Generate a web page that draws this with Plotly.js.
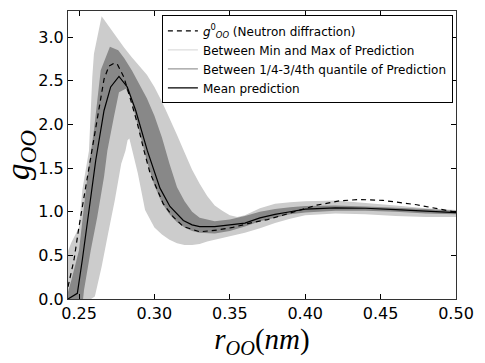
<!DOCTYPE html>
<html>
<head>
<meta charset="utf-8">
<script src="https://cdn.plot.ly/plotly-3.0.1.min.js"></script>
<style>html,body{margin:0;padding:0;background:#fff;}#chart{width:485px;height:363px;}</style>
</head>
<body>
<div id="chart"></div>
<script>
// Neutron diffraction g_OO
var dR = [0.2427, 0.2434, 0.2467, 0.25, 0.2533, 0.2566, 0.26, 0.2633, 0.2666, 0.2699, 0.2732, 0.2754, 0.2798, 0.2843, 0.2887, 0.2931, 0.297, 0.3059, 0.3125, 0.3192, 0.3302, 0.3413, 0.352, 0.3634, 0.375, 0.385, 0.395, 0.4076, 0.423, 0.436, 0.4516, 0.474, 0.50];
var dV = [0.14, 0.20, 0.45, 0.83, 1.17, 1.50, 1.85, 2.20, 2.52, 2.67, 2.70, 2.69, 2.54, 2.28, 2.01, 1.70, 1.45, 1.09, 0.94, 0.83, 0.77, 0.79, 0.82, 0.87, 0.91, 0.96, 1.01, 1.075, 1.125, 1.14, 1.13, 1.08, 0.995];

// Max of prediction
var maxR = [0.2427, 0.245, 0.25, 0.2522, 0.2566, 0.2588, 0.2599, 0.265, 0.270, 0.275, 0.28, 0.285, 0.29, 0.295, 0.30, 0.305, 0.31, 0.315, 0.32, 0.325, 0.33, 0.335, 0.34, 0.345, 0.35, 0.355, 0.36, 0.365, 0.37, 0.38, 0.39, 0.40, 0.42, 0.44, 0.46, 0.48, 0.50];
var maxV = [0.55, 0.65, 0.82, 1.25, 1.70, 2.54, 2.81, 3.24, 3.12, 3.00, 2.88, 2.77, 2.67, 2.57, 2.43, 2.26, 2.07, 1.88, 1.68, 1.48, 1.32, 1.18, 1.07, 1.01, 0.96, 0.94, 0.96, 1.00, 1.04, 1.09, 1.11, 1.12, 1.13, 1.10, 1.07, 1.04, 1.02];

// Min of prediction
var minR = [0.2427, 0.258, 0.2605, 0.265, 0.2693, 0.2737, 0.278, 0.2808, 0.2822, 0.2834, 0.289, 0.2938, 0.30, 0.305, 0.31, 0.315, 0.32, 0.325, 0.33, 0.335, 0.34, 0.35, 0.36, 0.37, 0.38, 0.39, 0.40, 0.42, 0.44, 0.46, 0.48, 0.50];
var minV = [0, 0, 0.03, 0.37, 0.75, 1.13, 1.55, 1.70, 1.82, 1.84, 1.44, 1.02, 0.82, 0.74, 0.68, 0.64, 0.62, 0.62, 0.63, 0.66, 0.68, 0.72, 0.76, 0.81, 0.87, 0.92, 0.96, 0.98, 0.97, 0.95, 0.94, 0.94];

// 3/4 quantile
var q75R = [0.2427, 0.245, 0.25, 0.2551, 0.26, 0.2644, 0.2705, 0.276, 0.28, 0.285, 0.29, 0.295, 0.30, 0.305, 0.31, 0.315, 0.32, 0.325, 0.33, 0.34, 0.35, 0.36, 0.37, 0.38, 0.39, 0.40, 0.42, 0.44, 0.46, 0.48, 0.50];
var q75V = [0.08, 0.22, 0.56, 1.33, 1.95, 2.62, 2.89, 2.85, 2.76, 2.62, 2.46, 2.30, 2.10, 1.85, 1.55, 1.28, 1.12, 1.00, 0.93, 0.89, 0.91, 0.95, 1.00, 1.03, 1.05, 1.065, 1.07, 1.06, 1.045, 1.03, 1.01];

// 1/4 quantile
var q25R = [0.2427, 0.2527, 0.2533, 0.2578, 0.2621, 0.2666, 0.2688, 0.2732, 0.2765, 0.281, 0.2843, 0.29, 0.295, 0.30, 0.305, 0.31, 0.315, 0.32, 0.325, 0.33, 0.34, 0.35, 0.36, 0.37, 0.38, 0.39, 0.40, 0.42, 0.44, 0.46, 0.48, 0.50];
var q25V = [0, 0, 0.10, 0.56, 0.94, 1.40, 1.70, 2.09, 2.37, 2.41, 2.31, 1.92, 1.58, 1.30, 1.10, 0.97, 0.88, 0.82, 0.78, 0.76, 0.75, 0.78, 0.83, 0.89, 0.93, 0.97, 0.99, 1.01, 1.01, 1.00, 0.98, 0.97];

// Mean prediction
var mR = [0.2427, 0.2489, 0.2522, 0.2566, 0.2611, 0.2666, 0.2710, 0.2765, 0.2820, 0.2876, 0.2953, 0.3037, 0.3103, 0.3192, 0.325, 0.33, 0.34, 0.35, 0.36, 0.37, 0.38, 0.39, 0.40, 0.42, 0.44, 0.46, 0.48, 0.50];
var mV = [0.0, 0.065, 0.45, 1.02, 1.59, 2.16, 2.43, 2.55, 2.43, 2.16, 1.70, 1.27, 1.06, 0.90, 0.85, 0.83, 0.83, 0.85, 0.87, 0.93, 0.97, 1.00, 1.03, 1.045, 1.04, 1.025, 1.01, 0.99];

var xTicks = [0.25, 0.30, 0.35, 0.40, 0.45, 0.50];
var xTickText = ['0.25', '0.30', '0.35', '0.40', '0.45', '0.50'];
var yTicks = [0.0, 0.5, 1.0, 1.5, 2.0, 2.5, 3.0];
var yTickText = ['0.0', '0.5', '1.0', '1.5', '2.0', '2.5', '3.0'];

var names = ['<i>g</i><sup>0</sup><sub><i>OO</i></sub> (Neutron diffraction)', 'Between Min and Max of Prediction', 'Between 1/4-3/4th quantile of Prediction', 'Mean prediction'];

var LIGHT = '#cccccc', DARK = '#888888';

function band(rU, vU, rL, vL) {
  return {x: rU.concat(rL.slice().reverse()), y: vU.concat(vL.slice().reverse())};
}
var light = band(maxR, maxV, minR, minV);
var dark = band(q75R, q75V, q25R, q25V);

var traces = [
  {x: light.x, y: light.y, type: 'scatter', mode: 'none', fill: 'toself', fillcolor: LIGHT, showlegend: false, hoverinfo: 'skip'},
  {x: dark.x, y: dark.y, type: 'scatter', mode: 'none', fill: 'toself', fillcolor: DARK, showlegend: false, hoverinfo: 'skip'},
  {x: dR, y: dV, type: 'scatter', mode: 'lines', name: names[0], line: {color: '#000', width: 1.2, dash: '5px,4px'}},
  {x: [null], y: [null], type: 'scatter', mode: 'lines', name: names[1], line: {color: '#dddddd', width: 1.2}},
  {x: [null], y: [null], type: 'scatter', mode: 'lines', name: names[2], line: {color: '#999999', width: 1.2}},
  {x: mR, y: mV, type: 'scatter', mode: 'lines', name: names[3], line: {color: '#000', width: 1.2}}
];

var layout = {
  width: 485, height: 363,
  margin: {l: 68, r: 29, t: 11, b: 64},
  paper_bgcolor: '#fff', plot_bgcolor: '#fff',
  font: {family: 'DejaVu Sans', color: '#000'},
  showlegend: true,
  legend: {x: 0.242, y: 0.985, xanchor: 'left', yanchor: 'top', bgcolor: '#fff', bordercolor: '#000', borderwidth: 1,
           font: {family: 'DejaVu Sans', size: 12, color: '#000'}, tracegroupgap: 0, itemwidth: 30},
  xaxis: {range: [0.2427, 0.50], tickvals: xTicks, ticktext: xTickText, ticks: 'inside', ticklen: 5, tickcolor: '#000',
          showline: true, linecolor: '#333', linewidth: 1, mirror: 'ticks', showgrid: false, zeroline: false,
          tickfont: {family: 'DejaVu Sans', size: 16, color: '#000'},
          title: {text: '<i>r</i><sub><i>OO</i></sub>(<i>nm</i>)', font: {family: 'Liberation Serif', size: 29, color: '#000'}, standoff: 6}},
  yaxis: {range: [0, 3.3], tickvals: yTicks, ticktext: yTickText, ticks: 'inside', ticklen: 5, tickcolor: '#000',
          showline: true, linecolor: '#333', linewidth: 1, mirror: 'ticks', showgrid: false, zeroline: false,
          tickfont: {family: 'DejaVu Sans', size: 16, color: '#000'},
          title: {text: '<i>g</i><sub><i>OO</i></sub>', font: {family: 'Liberation Serif', size: 33, color: '#000'}, standoff: 2}}
};

Plotly.newPlot('chart', traces, layout, {displayModeBar: false, staticPlot: true});
</script>
</body>
</html>
